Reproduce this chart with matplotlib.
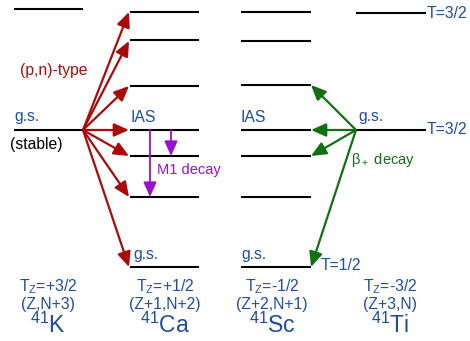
import matplotlib.pyplot as plt

plt.rcParams['font.family'] = ['Liberation Sans', 'DejaVu Sans']
plt.rcParams['mathtext.default'] = 'regular'

# level diagram data (vertical position in picture units, top = 0)
k_levels = [9, 130]
ca_levels = [12, 40, 86, 130, 156, 197, 267]
sc_levels = [12, 41, 85, 130, 156, 197, 267]
ti_levels = [13, 130]
# column spans (left, right)
cols = {'K': (14, 83), 'Ca': (130, 199), 'Sc': (241, 311), 'Ti': (356, 426)}
pn_targets = [12, 41, 86, 130, 156, 197, 267]
beta_targets = [85, 130, 156, 267]
m1_decays = [(150, 130, 197), (171, 130, 156)]

names = ['$^{41}$K', '$^{41}$Ca', '$^{41}$Sc', '$^{41}$Ti']
tz_labels = ['T$_Z$=+3/2', 'T$_Z$=+1/2', 'T$_Z$=-1/2', 'T$_Z$=-3/2']
zn_labels = ['(Z,N+3)', '(Z+1,N+2)', '(Z+2,N+1)', '(Z+3,N)']
label_x = [48, 165, 272, 390]

blue = '#1c4da1'
red = '#aa0a0a'
green = '#127012'
purple = '#9a10d0'

fig = plt.figure(figsize=(4.7, 3.41), dpi=100)
ax = fig.add_axes([0, 0, 1, 1])
ax.set_xlim(0, 470)
ax.set_ylim(341, 0)
ax.axis('off')

for key, levels in [('K', k_levels), ('Ca', ca_levels), ('Sc', sc_levels), ('Ti', ti_levels)]:
    x0, x1 = cols[key]
    for y in levels:
        ax.plot([x0, x1], [y, y], color='black', lw=1.5, solid_capstyle='butt')

head = '-|>,head_length=0.9,head_width=0.4'
# (p,n) arrows
for y in pn_targets:
    ax.annotate('', xy=(129, y), xytext=(83, 130),
                arrowprops=dict(arrowstyle=head, color=red, lw=1.6,
                                shrinkA=0, shrinkB=0))
# beta+ arrows
for y in beta_targets:
    ax.annotate('', xy=(311, y), xytext=(356, 130),
                arrowprops=dict(arrowstyle=head, color=green, lw=1.6,
                                shrinkA=0, shrinkB=0))
# M1 decay arrows
for x, y0, y1 in m1_decays:
    ax.annotate('', xy=(x, y1), xytext=(x, y0),
                arrowprops=dict(arrowstyle=head, color=purple, lw=1.3,
                                shrinkA=0, shrinkB=0))

fs = 11.3
ax.text(20, 70, '(p,n)-type', color=red, fontsize=fs, va='center')
ax.text(14, 117, 'g.s.', color=blue, fontsize=fs, va='center')
ax.text(10, 145, '(stable)', color='black', fontsize=fs, va='center')
ax.text(130, 118, 'IAS', color=blue, fontsize=fs, va='center')
ax.text(157, 170, 'M1 decay', color=purple, fontsize=fs - 0.8, va='center')
ax.text(133, 255, 'g.s.', color=blue, fontsize=fs, va='center')
ax.text(241, 117, 'IAS', color=blue, fontsize=fs, va='center')
ax.text(241, 255, 'g.s.', color=blue, fontsize=fs, va='center')
ax.text(358, 117, 'g.s.', color=blue, fontsize=fs, va='center')
ax.text(351, 160, 'β$_+$ decay', color=green, fontsize=fs - 0.8, va='center')
ax.text(427, 13, 'T=3/2', color=blue, fontsize=fs, va='center')
ax.text(427, 130, 'T=3/2', color=blue, fontsize=fs, va='center')
ax.text(321, 266, 'T=1/2', color=blue, fontsize=fs, va='center')

for x, tz, zn, nm in zip(label_x, tz_labels, zn_labels, names):
    ax.text(x, 287, tz, color=blue, fontsize=fs, ha='center', va='center')
    ax.text(x, 304, zn, color=blue, fontsize=fs, ha='center', va='center')
    ax.text(x, 325, nm, color=blue, fontsize=16.5, ha='center', va='center')

fig.savefig('out.png', dpi=100)
